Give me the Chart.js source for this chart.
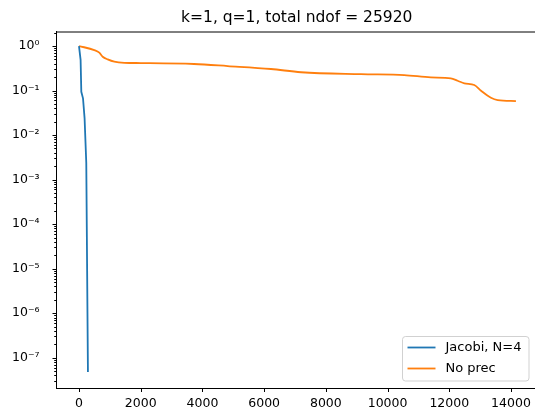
<!DOCTYPE html>
<html>
<head>
<meta charset="utf-8">
<script src="https://cdn.jsdelivr.net/npm/chart.js@4.4.0/dist/chart.umd.min.js"></script>
<style>
  html, body { margin: 0; padding: 0; background: #fff; }
  #wrap { width: 535px; height: 409px; }
</style>
</head>
<body>
<div id="wrap"><canvas id="chart"></canvas></div>
<script>
// Dados
const titulo = 'k=1, q=1, total ndof = 25920';
const nomesSeries = ['Jacobi, N=4', 'No prec'];

const jacobiIter = [0, 52, 75, 130, 181, 236, 290];
const jacobiRes = [1.0, 0.49, 0.094, 0.067, 0.024, 0.0024, 4.8e-8];

const noPrecIter = [0, 496, 658, 768, 930, 1144, 1470, 2009, 3727, 4819, 6222, 7195, 9139, 10540, 11400, 12050, 12270, 12490, 12810, 13030, 13350, 13570, 14160];
const noPrecRes = [1.0, 0.81, 0.71, 0.575, 0.50, 0.444, 0.42, 0.415, 0.395, 0.355, 0.305, 0.258, 0.233, 0.223, 0.198, 0.188, 0.166, 0.145, 0.133, 0.099, 0.069, 0.061, 0.058];

const xTicks = [0, 2000, 4000, 6000, 8000, 10000, 12000, 14000];
const yExpoentes = [0, -1, -2, -3, -4, -5, -6, -7];

const CORES = { azul: '#1f77b4', laranja: '#ff7f0e' };
const FONTE = 'DejaVu Sans';

const SUP = { '0': '⁰', '1': '¹', '2': '²', '3': '³', '4': '⁴', '5': '⁵', '6': '⁶', '7': '⁷', '8': '⁸', '9': '⁹', '-': '⁻' };
function potencia(e) {
    return '10' + String(e).split('').map(c => SUP[c]).join('');
}

function pontos(xs, ys) {
    return xs.map((x, i) => ({ x: x, y: ys[i] }));
}

// Ticks, moldura, legenda e título no estilo matplotlib
const estiloMpl = {
    id: 'estiloMpl',
    afterDraw(chart) {
        const ctx = chart.ctx;
        const area = chart.chartArea;
        const sx = chart.scales.x;
        const sy = chart.scales.y;
        ctx.save();
        ctx.strokeStyle = '#000';
        ctx.lineWidth = 1;

        // moldura de cima
        ctx.beginPath();
        ctx.moveTo(area.left, area.top + 0.5);
        ctx.lineTo(area.right, area.top + 0.5);
        ctx.stroke();

        // ticks do eixo x
        xTicks.forEach(v => {
            const px = Math.round(sx.getPixelForValue(v)) + 0.5;
            ctx.beginPath();
            ctx.moveTo(px, area.bottom);
            ctx.lineTo(px, area.bottom + 4);
            ctx.stroke();
        });

        // ticks do eixo y (maiores e menores)
        for (let e = -8; e <= 0; e++) {
            for (let m = 1; m <= 9; m++) {
                const v = m * Math.pow(10, e);
                if (v < sy.min || v > sy.max) continue;
                const py = Math.round(sy.getPixelForValue(v)) + 0.5;
                const len = m === 1 ? 4 : 2.3;
                ctx.beginPath();
                ctx.moveTo(area.left, py);
                ctx.lineTo(area.left - len, py);
                ctx.stroke();
            }
        }

        // título
        ctx.fillStyle = '#000';
        ctx.font = '15.5px "' + FONTE + '"';
        ctx.textAlign = 'center';
        ctx.textBaseline = 'alphabetic';
        ctx.fillText(titulo, (area.left + 537) / 2, 21.5);

        // legenda
        const lx = 402.5, ly = 336.5, lw = 126.5, lh = 44.5;
        ctx.fillStyle = 'rgba(255,255,255,0.8)';
        ctx.strokeStyle = 'rgba(204,204,204,0.9)';
        ctx.beginPath();
        ctx.roundRect(lx, ly, lw, lh, 3);
        ctx.fill();
        ctx.stroke();
        ctx.font = '13px "' + FONTE + '"';
        ctx.textAlign = 'left';
        ctx.textBaseline = 'middle';
        chart.data.datasets.forEach((ds, i) => {
            const yy = ly + 11 + i * 21;
            ctx.strokeStyle = ds.borderColor;
            ctx.lineWidth = 1.8;
            ctx.beginPath();
            ctx.moveTo(lx + 5, yy);
            ctx.lineTo(lx + 33, yy);
            ctx.stroke();
            ctx.fillStyle = '#000';
            ctx.fillText(ds.label, lx + 43, yy + 0.5);
        });
        ctx.restore();
    }
};

const ctx = document.getElementById('chart').getContext('2d');
new Chart(ctx, {
    type: 'line',
    data: {
        datasets: [
            {
                label: nomesSeries[0],
                data: pontos(jacobiIter, jacobiRes),
                borderColor: CORES.azul,
                backgroundColor: CORES.azul,
                borderWidth: 1.8,
                pointRadius: 0,
                tension: 0,
                fill: false
            },
            {
                label: nomesSeries[1],
                data: pontos(noPrecIter, noPrecRes),
                borderColor: CORES.laranja,
                backgroundColor: CORES.laranja,
                borderWidth: 1.8,
                pointRadius: 0,
                cubicInterpolationMode: 'monotone',
                fill: false
            }
        ]
    },
    options: {
        responsive: true,
        maintainAspectRatio: false,
        animation: false,
        devicePixelRatio: 1,
        layout: { padding: { top: 31.5, left: 0, right: 0, bottom: 0 } },
        plugins: {
            legend: { display: false },
            title: { display: false },
            tooltip: { enabled: false }
        },
        scales: {
            x: {
                type: 'linear',
                min: -729,
                max: 14778,
                grid: { display: false },
                border: { display: true, color: '#000', width: 1 },
                afterBuildTicks: s => { s.ticks = xTicks.map(v => ({ value: v })); },
                afterFit: s => { s.height = 21; },
                ticks: {
                    autoSkip: false,
                    maxRotation: 0,
                    padding: 0,
                    color: '#000',
                    font: { family: FONTE, size: 12.5 },
                    callback: v => String(v)
                }
            },
            y: {
                type: 'logarithmic',
                min: 2.09e-8,
                max: 2.12,
                grid: { display: false },
                border: { display: true, color: '#000', width: 1 },
                afterBuildTicks: s => { s.ticks = yExpoentes.map(e => ({ value: Math.pow(10, e) })); },
                afterFit: s => { s.width = 56.5; },
                ticks: {
                    autoSkip: false,
                    padding: 9,
                    color: '#000',
                    font: { family: FONTE, size: 12.5 },
                    callback: v => potencia(Math.round(Math.log10(v)))
                }
            }
        }
    },
    plugins: [estiloMpl]
});
</script>
</body>
</html>
